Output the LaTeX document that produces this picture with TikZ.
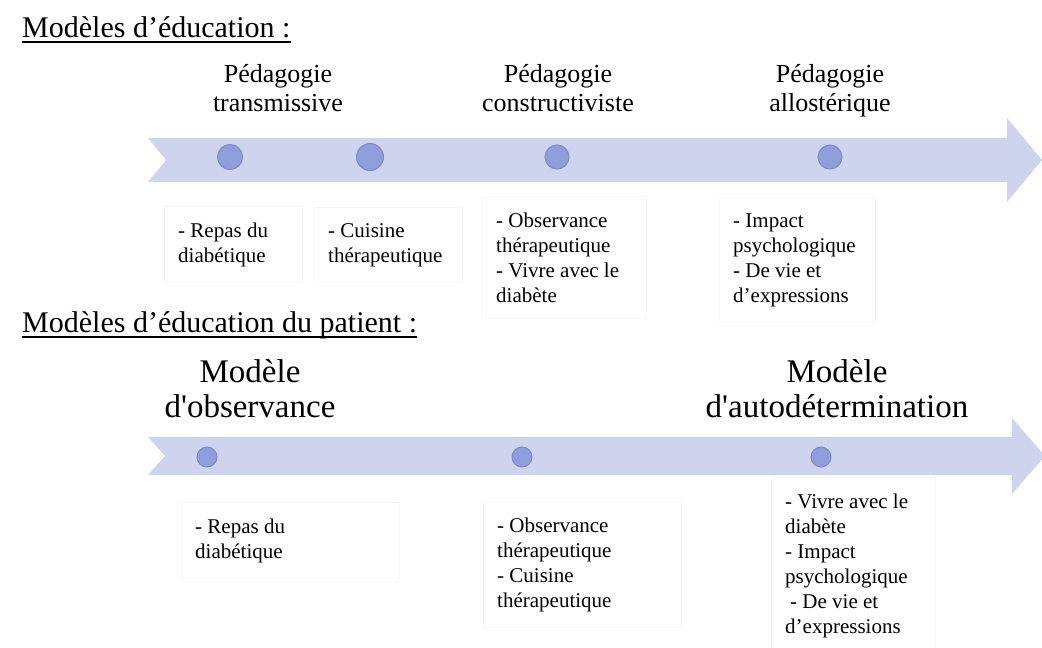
\documentclass[tikz,border=0pt]{standalone}
\usepackage{fontspec}
\setmainfont{Liberation Serif}
\usetikzlibrary{positioning}
\definecolor{bandblue}{RGB}{206,212,238}
\definecolor{dotblue}{RGB}{142,158,218}
\definecolor{dotedge}{RGB}{122,138,206}
\tikzset{
  band/.style={fill=bandblue},
  milestone/.style={circle, fill=dotblue, draw=dotedge, line width=1pt, inner sep=0pt, minimum size=#1},
  heading/.style={anchor=base west, inner sep=0pt, font=\fontsize{30}{36}\selectfont},
  underl/.style={line width=1.1pt},
  phase/.style={anchor=base, inner sep=0pt, text width=300pt, align=center, font=\fontsize{26}{29}\selectfont},
  model/.style={anchor=base, inner sep=0pt, text width=360pt, align=center, font=\fontsize{33}{35}\selectfont},
  itembox/.style={anchor=base west, text width=#1, align=flush left, inner xsep=14pt, inner ysep=16pt, draw=black!3, font=\fontsize{21}{25}\selectfont}
}

\begin{document}
\begin{tikzpicture}[x=1pt, y=-1pt]
      \fill[white] (0,0) rectangle (1042,648);
      \useasboundingbox (0,0) rectangle (1042,648);

      \node[heading] (t1) at (22,37) {Modèles d’éducation :};
      \draw[underl] ([yshift=-5pt]t1.base west) -- ([yshift=-5pt]t1.base east);

      \fill[band] (148,138) -- (1007,138) -- (1007,118) -- (1042,160) -- (1007,202)
        -- (1007,182) -- (148,182) -- (166,160) -- cycle;
      \node[milestone=25pt] (d1) at (230,157) {};
      \node[milestone=27pt] (d2) at (370,157) {};
      \node[milestone=24pt] (d3) at (557,157) {};
      \node[milestone=24pt] (d4) at (830,157) {};

      \node[phase] (p1) at (278,82) {Pédagogie\\transmissive};
      \node[phase] (p2) at (558,82) {Pédagogie\\constructiviste};
      \node[phase] (p3) at (830,82) {Pédagogie\\allostérique};

      \node[itembox=110pt] (b1) at (164,237) {- Repas du\\diabétique};
      \node[itembox=120pt] (b2) at (314,237) {- Cuisine\\thérapeutique};
      \node[itembox=136pt] (b3) at (482,227) {- Observance\\thérapeutique\\- Vivre avec le\\diabète};
      \node[itembox=128pt] (b4) at (719,227) {- Impact\\psychologique\\- De vie et\\d’expressions};

      \node[heading] (t2) at (22,332) {Modèles d’éducation du patient :};
      \draw[underl] ([yshift=-5pt]t2.base west) -- ([yshift=-5pt]t2.base east);

      \fill[band] (148,437) -- (1012,437) -- (1012,418) -- (1045,456) -- (1012,494)
        -- (1012,475) -- (148,475) -- (165,456) -- cycle;
      \node[milestone=20pt] (e1) at (207,457) {};
      \node[milestone=20pt] (e2) at (522,457) {};
      \node[milestone=20pt] (e3) at (821,457) {};

      \node[model] (m1) at (250,382) {Modèle\\d\textquotesingle observance};
      \node[model] (m2) at (837,382) {Modèle\\d\textquotesingle autodétermination};

      \node[itembox=190pt] (c1) at (181,533) {- Repas du\\diabétique};
      \node[itembox=170pt] (c2) at (483,532) {- Observance\\thérapeutique\\- Cuisine\\thérapeutique};
      \node[itembox=136pt] (c3) at (771,508) {- Vivre avec le\\diabète\\- Impact\\psychologique\\\hspace{5pt}- De vie et\\d’expressions};
\end{tikzpicture}
\end{document}
